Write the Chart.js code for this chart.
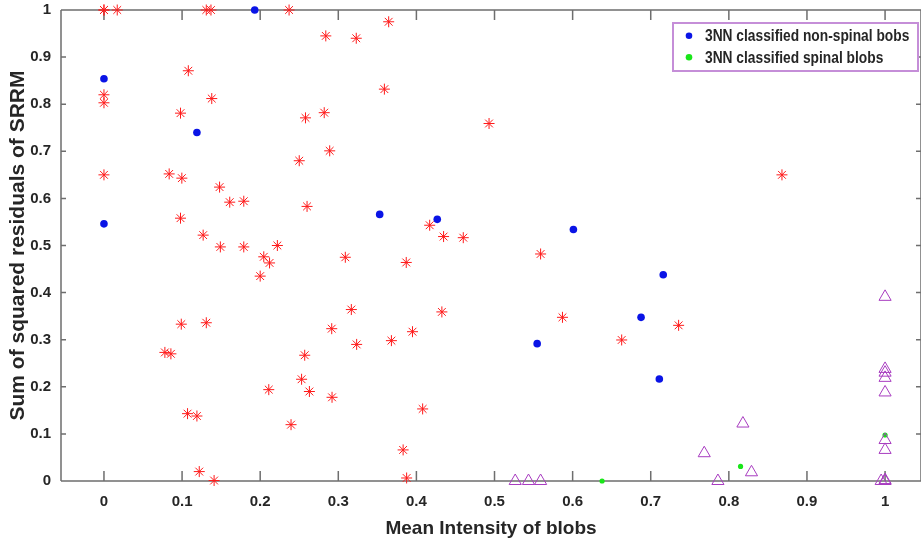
<!DOCTYPE html>
<html>
<head>
<meta charset="utf-8">
<title>3NN blob classification</title>
<script src="https://cdn.jsdelivr.net/npm/chart.js"></script>
<style>
  html, body { margin: 0; padding: 0; background: #fff; }
</style>
</head>
<body>
<canvas id="blobChart" width="921" height="542"></canvas>
<script>
// blobs classified by 3NN as non-spinal (blue dots)
const nonSpinalX = [0, 0, 0.119, 0.193, 0.353, 0.4267, 0.601, 0.5546, 0.716, 0.6876, 0.711];
const nonSpinalY = [0.854, 0.546, 0.740, 1.0, 0.566, 0.5555, 0.534, 0.2916, 0.438, 0.3475, 0.2166];

// blobs classified by 3NN as spinal (green dots)
const spinalX = [0.6377, 0.815, 1];
const spinalY = [0, 0.031, 0.0977];

// training blobs, non-spinal (red asterisks)
const trainNonSpinalX = [
  0, 0, 0.017, 0.131, 0.137, 0.237,
  0, 0, 0.108, 0.138, 0.098, 0.258, 0.250, 0, 0.0835, 0.0997, 0.148, 0.161, 0.179, 0.260,
  0.098, 0.127, 0.149, 0.179, 0.222, 0.2046, 0.212, 0.200,
  0.099, 0.131, 0.078, 0.0857, 0.257, 0.253, 0.211, 0.263, 0.107, 0.119, 0.2395, 0.122, 0.141,
  0.3645, 0.284, 0.323, 0.359, 0.282, 0.493, 0.289, 0.417, 0.4348, 0.460, 0.559, 0.309, 0.387,
  0.3167, 0.4326, 0.587, 0.2916, 0.395, 0.3235, 0.368, 0.292, 0.408, 0.383, 0.3875,
  0.7357, 0.6628, 0.868
];
const trainNonSpinalY = [
  1, 1, 1, 1, 1, 1,
  0.820, 0.803, 0.871, 0.812, 0.781, 0.771, 0.680, 0.650, 0.652, 0.643, 0.624, 0.592, 0.594, 0.583,
  0.558, 0.522, 0.497, 0.497, 0.500, 0.476, 0.463, 0.435,
  0.333, 0.336, 0.273, 0.270, 0.267, 0.216, 0.194, 0.190, 0.143, 0.138, 0.1196, 0.020, 0.001,
  0.975, 0.945, 0.940, 0.832, 0.782, 0.759, 0.701, 0.543, 0.519, 0.5166, 0.482, 0.475, 0.464,
  0.364, 0.359, 0.3475, 0.3234, 0.317, 0.290, 0.298, 0.1777, 0.153, 0.066, 0.0064,
  0.3305, 0.2994, 0.650
];

// training blobs, spinal (magenta triangles)
const trainSpinalX = [0.5265, 0.5435, 0.559, 0.786, 0.7685, 0.818, 0.829, 1, 1, 1, 1, 1, 1, 1, 0.995, 1, 1];
const trainSpinalY = [0, 0, 0, 0, 0.059, 0.122, 0.0185, 0.391, 0.238, 0.230, 0.219, 0.188, 0.087, 0.066, 0, 0, 0.002];

const xTicks = [0, 0.1, 0.2, 0.3, 0.4, 0.5, 0.6, 0.7, 0.8, 0.9, 1];
const yTicks = [0, 0.1, 0.2, 0.3, 0.4, 0.5, 0.6, 0.7, 0.8, 0.9, 1];

const xTitle = 'Mean Intensity of blobs';
const yTitle = 'Sum of squared residuals of SRRM';

const FONT = "'Liberation Sans', Arial, sans-serif";
const AXIS_COLOR = '#6e6e6e';
const TEXT_COLOR = '#262626';

function points(xs, ys) {
  return xs.map((x, i) => ({ x: x, y: ys[i] }));
}

// box around the plot with inward tick marks on all four sides
const axesBox = {
  id: 'axesBox',
  beforeDatasetsDraw(chart) {
    const { ctx, chartArea: a, scales: { x, y } } = chart;
    ctx.save();
    ctx.strokeStyle = AXIS_COLOR;
    ctx.lineWidth = 1.5;
    ctx.beginPath();
    ctx.moveTo(a.left, a.top); ctx.lineTo(a.right, a.top);
    ctx.moveTo(a.left, a.bottom); ctx.lineTo(a.right, a.bottom);
    ctx.moveTo(a.left, a.top); ctx.lineTo(a.left, a.bottom);
    ctx.moveTo(a.right, a.top); ctx.lineTo(a.right, a.bottom);
    x.ticks.forEach(t => {
      const px = x.getPixelForValue(t.value);
      ctx.moveTo(px, a.bottom); ctx.lineTo(px, a.bottom - 10);
      ctx.moveTo(px, a.top); ctx.lineTo(px, a.top + 10);
    });
    y.ticks.forEach(t => {
      const py = y.getPixelForValue(t.value);
      ctx.moveTo(a.left, py); ctx.lineTo(a.left + 5, py);
      ctx.moveTo(a.right, py); ctx.lineTo(a.right - 5, py);
    });
    ctx.stroke();
    ctx.restore();
  }
};

// legend box in the upper right corner, only for the classified sets
const boxLegend = {
  id: 'boxLegend',
  afterDraw(chart) {
    const ctx = chart.ctx;
    const items = chart.data.datasets.filter(ds => ds.inLegend);
    const left = 673, top = 23, width = 245, height = 48, rowH = 21.6;
    ctx.save();
    ctx.fillStyle = '#ffffff';
    ctx.fillRect(left, top, width, height);
    ctx.strokeStyle = '#c58ed8';
    ctx.lineWidth = 2;
    ctx.strokeRect(left, top, width, height);
    items.forEach((ds, i) => {
      const cy = top + 12.7 + i * rowH;
      ctx.fillStyle = ds.backgroundColor;
      ctx.beginPath();
      ctx.arc(left + 16, cy, 3.3, 0, Math.PI * 2);
      ctx.fill();
      // narrow lettering: squeeze the text horizontally
      ctx.save();
      ctx.translate(left + 32, cy + 1);
      ctx.scale(0.81, 1);
      ctx.font = 'bold 17px ' + FONT;
      ctx.textBaseline = 'middle';
      ctx.textAlign = 'left';
      ctx.fillStyle = TEXT_COLOR;
      ctx.fillText(ds.label, 0, 0);
      ctx.restore();
    });
    ctx.restore();
  }
};

new Chart(document.getElementById('blobChart'), {
  type: 'scatter',
  data: {
    datasets: [
      {
        label: 'training non-spinal',
        data: points(trainNonSpinalX, trainNonSpinalY),
        pointStyle: 'star',
        pointRadius: 5.5,
        borderColor: '#ff1a1a',
        backgroundColor: '#ff1a1a',
        borderWidth: 1,
        clip: false
      },
      {
        label: 'training spinal',
        data: points(trainSpinalX, trainSpinalY),
        pointStyle: 'triangle',
        pointRadius: 7,
        borderColor: '#a83cc0',
        backgroundColor: 'rgba(0,0,0,0)',
        borderWidth: 1,
        clip: false
      },
      {
        label: '3NN classified non-spinal bobs',
        inLegend: true,
        data: points(nonSpinalX, nonSpinalY),
        pointStyle: 'circle',
        pointRadius: 3.8,
        borderWidth: 0,
        backgroundColor: '#0a14e6',
        borderColor: '#0a14e6',
        clip: false
      },
      {
        label: '3NN classified spinal blobs',
        inLegend: true,
        data: points(spinalX, spinalY),
        pointStyle: 'circle',
        pointRadius: 2.6,
        borderWidth: 0,
        backgroundColor: '#19e619',
        borderColor: '#19e619',
        clip: false
      }
    ]
  },
  options: {
    responsive: false,
    animation: false,
    events: [],
    layout: { autoPadding: false, padding: { top: 10, right: 0, bottom: 0, left: 0 } },
    plugins: {
      legend: { display: false },
      tooltip: { enabled: false }
    },
    scales: {
      x: {
        type: 'linear',
        min: -0.055,
        max: 1.046,
        grid: { display: false, drawTicks: false },
        border: { display: false },
        afterBuildTicks: s => { s.ticks = xTicks.map(v => ({ value: v })); },
        afterFit: s => { s.height = 61; s.paddingLeft = 0; s.paddingRight = 0; },
        ticks: {
          padding: 12,
          color: TEXT_COLOR,
          font: { family: FONT, size: 15, weight: 'bold' },
          callback: v => String(v)
        },
        title: {
          display: true,
          text: xTitle,
          color: TEXT_COLOR,
          font: { family: FONT, size: 19, weight: 'bold' },
          padding: { top: 0, bottom: 2 }
        }
      },
      y: {
        type: 'linear',
        min: 0,
        max: 1,
        grid: { display: false, drawTicks: false },
        border: { display: false },
        afterBuildTicks: s => { s.ticks = yTicks.map(v => ({ value: v })); },
        afterFit: s => { s.width = 61; s.paddingTop = 0; s.paddingBottom = 0; },
        ticks: {
          padding: 10,
          color: TEXT_COLOR,
          font: { family: FONT, size: 15, weight: 'bold' },
          callback: v => String(v)
        },
        title: {
          display: true,
          text: yTitle,
          color: TEXT_COLOR,
          font: { family: FONT, size: 21, weight: 'bold' },
          padding: { top: 6, bottom: 0 }
        }
      }
    }
  },
  plugins: [axesBox, boxLegend]
});
</script>
</body>
</html>
